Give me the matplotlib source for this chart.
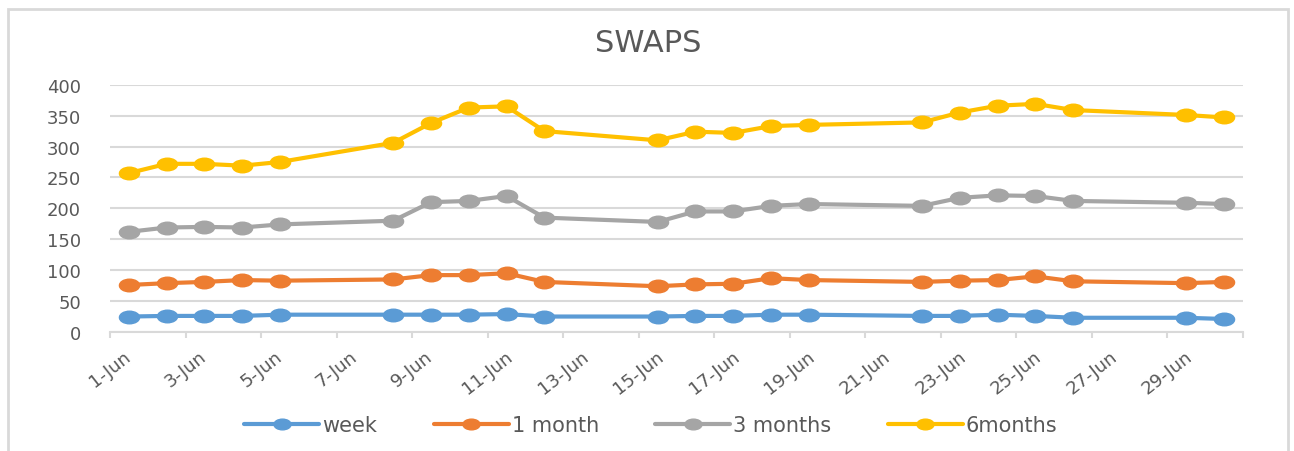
import datetime as dt
import matplotlib
matplotlib.use('Agg')
import matplotlib.pyplot as plt
from matplotlib.path import Path
from matplotlib.transforms import Affine2D
from matplotlib.patches import Rectangle

# ==========================================
# 1. data
# ==========================================
YEAR = 2015
days = [1, 2, 3, 4, 5, 8, 9, 10, 11, 12, 15, 16, 17, 18, 19, 22, 23, 24, 25, 26, 29, 30]

week = [25, 26, 26, 26, 28, 28, 28, 28, 29, 25, 25, 26, 26, 28, 28, 26, 26, 28, 26, 23, 23, 21]
month_1 = [76, 79, 81, 84, 83, 85, 92, 92, 95, 81, 74, 77, 78, 87, 84, 81, 83, 84, 90, 82, 79, 81]
month_3 = [162, 169, 170, 169, 174, 180, 210, 212, 220, 185, 178, 195, 195, 204, 207, 204, 217, 221, 220, 212, 209, 207]
month_6 = [257, 272, 272, 269, 275, 306, 338, 363, 365, 325, 310, 324, 322, 333, 335, 339, 355, 366, 369, 359, 351, 347]

series_names = ['week', '1 month', '3 months', '6months']
series_colors = ['#5B9BD5', '#ED7D31', '#A5A5A5', '#FFC000']
y_ticks = [0, 50, 100, 150, 200, 250, 300, 350, 400]

# ==========================================
# 2. styling
# ==========================================
TEXT_GRAY = '#595959'
GRID_GRAY = '#D9D9D9'

# points sit in the middle of each day slot (Excel date axis)
x_dates = [dt.datetime(YEAR, 6, d, 12) for d in days]

# wide ellipse marker, the original chart is stretched sideways
ellipse = Path.unit_circle().transformed(Affine2D().scale(1.6, 1.0))

fig = plt.figure(figsize=(12.94, 4.52), dpi=100)
ax = fig.add_axes([0.085, 0.2633, 0.8756, 0.5471])

for vals, name, col in zip([week, month_1, month_3, month_6], series_names, series_colors):
    ax.plot(x_dates, vals, color=col, lw=3.0, marker=ellipse, ms=14.5,
            label=name, solid_capstyle='round', zorder=3)

# ==========================================
# 3. axes
# ==========================================
ax.set_ylim(0, 400)
ax.set_yticks(y_ticks)
ax.set_xlim(dt.datetime(YEAR, 6, 1), dt.datetime(YEAR, 7, 1))

tick_dates = [dt.datetime(YEAR, 6, 1) + dt.timedelta(days=2 * i) for i in range(16)]
ax.set_xticks(tick_dates)
ax.set_xticklabels([f'{t.day}-Jun' if t.month == 6 else '' for t in tick_dates])

ax.grid(axis='y', color=GRID_GRAY, lw=1.5, zorder=0)
for s in ['top', 'right', 'left']:
    ax.spines[s].set_visible(False)
ax.spines['bottom'].set_color(GRID_GRAY)
ax.spines['bottom'].set_linewidth(1.5)

ax.tick_params(axis='y', length=0, pad=21, labelsize=13, labelcolor=TEXT_GRAY)
ax.tick_params(axis='x', direction='out', length=4, width=1.5, color=GRID_GRAY,
               pad=7, labelsize=13, labelcolor=TEXT_GRAY)
for lab in ax.get_xticklabels():
    lab.set_rotation(38)
    lab.set_ha('center')
    lab.set_va('top')

fig.text(0.501, 0.903, 'SWAPS', ha='center', va='center', fontsize=22, color=TEXT_GRAY)

leg = fig.legend(loc='center', bbox_to_anchor=(0.503, 0.057), ncol=4, frameon=False,
                 fontsize=15, handlelength=3.6, handletextpad=0.15, columnspacing=2.7,
                 markerscale=0.85, labelcolor=TEXT_GRAY)

# chart frame
fig.patches.append(Rectangle((0.0065, -0.05), 0.9885, 1.028, transform=fig.transFigure,
                             fill=False, edgecolor=GRID_GRAY, lw=2.0))

fig.savefig('out.png', dpi=100, facecolor='white')
